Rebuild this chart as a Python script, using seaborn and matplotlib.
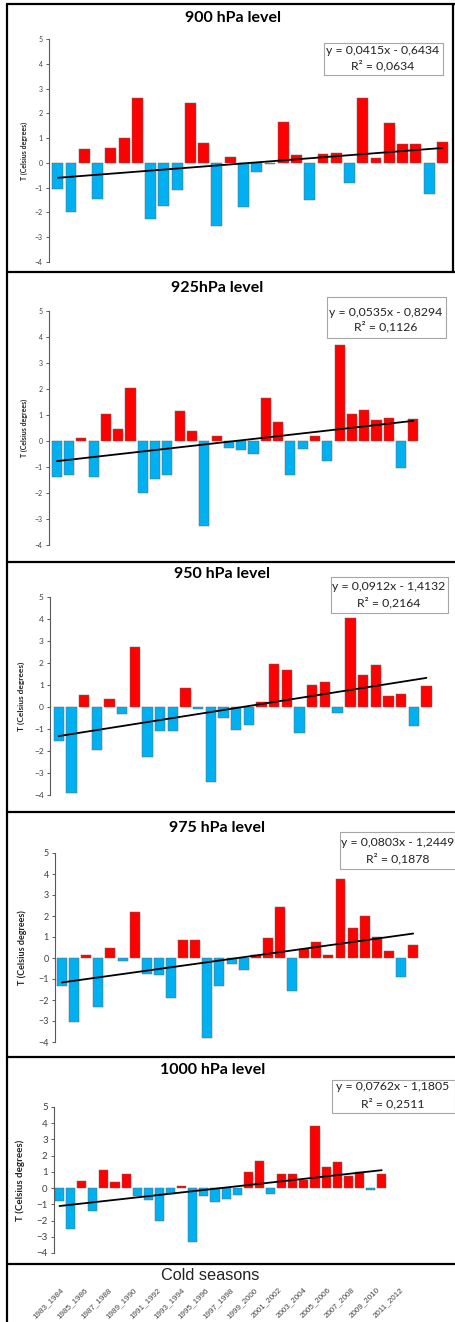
import numpy as np
import pandas as pd
import matplotlib.pyplot as plt
import seaborn as sns
from matplotlib.lines import Line2D
from matplotlib.patches import Rectangle

sns.set_theme(style="ticks")
plt.rcParams['font.family'] = ['Lato', 'DejaVu Sans']

W, H = 456, 1322

seasons = [f"{y}_{y + 1}" for y in range(1983, 2013)]
shown_labels = ["1983_1984", "1985_1986", "1987_1988", "1989_1990", "1991_1992",
                "1993_1994", "1995_1996", "1997_1998", "1999_2000", "2001_2002",
                "2003_2004", "2005_2006", "2007_2008", "2009_2010", "2011_2012"]

t900 = [-1.05, -2.0, 0.55, -1.45, 0.6, 1.0, 2.6, -2.25, -1.75, -1.1, 2.4, 0.8, -2.55, 0.25, -1.8,
        -0.35, -0.05, 1.65, 0.3, -1.5, 0.35, 0.4, -0.8, 2.6, 0.2, 1.6, 0.75, 0.75, -1.25, 0.85]
t925 = [-1.4, -1.3, 0.1, -1.4, 1.05, 0.45, 2.05, -2.0, -1.45, -1.3, 1.15, 0.4, -3.25, 0.2, -0.25,
        -0.35, -0.5, 1.65, 0.75, -1.3, -0.3, 0.2, -0.75, 3.7, 1.05, 1.2, 0.8, 0.9, -1.05, 0.85]
t950 = [-1.55, -3.9, 0.55, -1.95, 0.35, -0.3, 2.75, -2.25, -1.1, -1.1, 0.85, -0.1, -3.4, -0.5, -1.05,
        -0.8, 0.25, 1.95, 1.7, -1.2, 1.0, 1.15, -0.25, 4.05, 1.45, 1.9, 0.5, 0.6, -0.85, 0.95]
t975 = [-1.35, -3.05, 0.15, -2.35, 0.5, -0.15, 2.2, -0.75, -0.8, -1.9, 0.85, 0.85, -3.8, -1.35, -0.3,
        -0.55, 0.15, 0.95, 2.45, -1.55, 0.45, 0.75, 0.15, 3.75, 1.45, 2.0, 1.0, 0.35, -0.9, 0.6]
t1000 = [-0.8, -2.5, 0.45, -1.4, 1.1, 0.4, 0.85, -0.5, -0.75, -2.05, -0.35, 0.15, -3.3, -0.5, -0.85,
         -0.7, -0.4, 1.0, 1.65, -0.35, 0.85, 0.85, 0.5, 3.85, 1.3, 1.6, 0.75, 1.0, -0.1, 0.9]

titles = ["900 hPa level", "925hPa level", "950 hPa level", "975 hPa level", "1000 hPa level"]
slopes = [0.0415, 0.0535, 0.0912, 0.0803, 0.0762]
intercepts = [-0.6434, -0.8294, -1.4132, -1.2449, -1.1805]
r2 = [0.0634, 0.1126, 0.2164, 0.1878, 0.2511]
series = [t900, t925, t950, t975, t1000]

# panel layout in pixels: spine x, first bar centre, bar spacing, y of +5, y of -4
layout = [
    dict(spine=49, c0=57.8, step=13.26, top=39, bot=262, title=(233, 18),
         box=(324, 43, 443, 75), eq=(383, 50, 66), fs=5, ylx=28),
    dict(spine=49, c0=56.7, step=12.3, top=311, bot=545, title=(217, 288),
         box=(327, 297, 446, 338), eq=(386, 312, 327), fs=5, ylx=28),
    dict(spine=50, c0=58.7, step=12.68, top=597, bot=795, title=(222, 574),
         box=(331, 577, 448, 613), eq=(389, 587, 603), fs=6, ylx=25),
    dict(spine=55, c0=62, step=12.11, top=853, bot=1042, title=(217, 828),
         box=(340, 832, 470, 869), eq=(398, 843, 859), fs=6.5, ylx=27),
    dict(spine=54, c0=59.5, step=11.11, top=1107, bot=1253, title=(213, 1070),
         box=(332, 1080, 455, 1113), eq=(393, 1087, 1104), fs=7, ylx=25),
]


def fx(px):
    return px / W


def fy(py):
    return 1 - py / H


def fmt(v):
    return f"{abs(v):.4f}".replace(".", ",")


fig = plt.figure(figsize=(W / 100, H / 100), dpi=100)

for i, (vals, L) in enumerate(zip(series, layout)):
    x_left = -(L["c0"] - L["spine"]) / L["step"]
    width_px = (29.5 - x_left) * L["step"]
    ax = fig.add_axes([fx(L["spine"]), fy(L["bot"]), fx(width_px), (L["bot"] - L["top"]) / H])

    df = pd.DataFrame({"season": seasons, "T": vals})
    df["sign"] = np.where(df["T"] >= 0, "warm", "cold")
    sns.barplot(data=df, x="season", y="T", hue="sign", dodge=False, width=0.82,
                palette={"warm": "#FF0000", "cold": "#00B0F0"}, saturation=1, legend=False,
                edgecolor="#6a6a6a", linewidth=0.35, ax=ax, order=seasons)

    idx = np.arange(len(vals))
    ax.plot(idx, slopes[i] * (idx + 1) + intercepts[i], color="black", lw=1.3)

    ax.set_xlim(x_left, 29.5)
    ax.set_ylim(-4, 5)
    ax.set_yticks(range(-4, 6))
    ax.set_xticks([])
    ax.set_xlabel("")
    ax.set_ylabel("T (Celsius degrees)", fontsize=L["fs"], fontweight="bold", color="#222222")
    ax.yaxis.set_label_coords(-(L["spine"] - L["ylx"]) / width_px, 0.5)
    ax.tick_params(axis="y", direction="out", length=2.5, width=0.6, pad=2,
                   labelsize=L["fs"], colors="#404040")
    for s in ["top", "right", "bottom"]:
        ax.spines[s].set_visible(False)
    ax.spines["left"].set_color("#595959")
    ax.spines["left"].set_linewidth(0.8)
    ax.set_facecolor("none")

    tx, ty = L["title"]
    fig.text(fx(tx), fy(ty), titles[i], ha="center", va="center",
             fontsize=11.5, fontweight="bold", color="black")

    x0, y0, x1, y1 = L["box"]
    fig.add_artist(Rectangle((fx(x0), fy(y1)), fx(x1 - x0), (y1 - y0) / H,
                             transform=fig.transFigure, facecolor="white",
                             edgecolor="#a6a6a6", lw=0.8))
    ex, ey1, ey2 = L["eq"]
    sign = "-" if intercepts[i] < 0 else "+"
    fig.text(fx(ex), fy(ey1), f"y = {fmt(slopes[i])}x {sign} {fmt(intercepts[i])}",
             ha="center", va="center", fontsize=8.8, color="#222222")
    fig.text(fx(ex), fy(ey2), f"R\u00b2 = {fmt(r2[i])}",
             ha="center", va="center", fontsize=8.8, color="#222222")

# bottom strip with the season names
ax_lab = fig.add_axes([fx(53.9), fy(1285), fx(30 * 12.14), 0.0005])
ax_lab.set_xlim(-0.5, 29.5)
ax_lab.set_xticks(range(0, 30, 2))
ax_lab.set_xticklabels(shown_labels, rotation=45, ha="right", rotation_mode="anchor",
                       fontsize=5.8, color="#404040", family=["Liberation Sans"])
ax_lab.tick_params(axis="x", length=0, pad=1)
ax_lab.set_yticks([])
for s in ax_lab.spines.values():
    s.set_visible(False)
ax_lab.set_facecolor("none")

fig.text(fx(210), fy(1275), "Cold seasons", ha="center", va="center",
         fontsize=11.7, color="#222222", family=["Liberation Sans"])

# panel frames
lw = 1.6
for yy in [272, 562, 812, 1057, 1264]:
    fig.add_artist(Line2D([fx(7), 1], [fy(yy), fy(yy)], transform=fig.transFigure,
                          color="black", lw=lw))
fig.add_artist(Line2D([fx(7), 1], [fy(4), fy(4)], transform=fig.transFigure, color="black", lw=lw))
fig.add_artist(Line2D([fx(7), fx(7)], [fy(4), 0], transform=fig.transFigure, color="black", lw=lw))
fig.add_artist(Line2D([fx(453), fx(453)], [fy(4), fy(272)], transform=fig.transFigure,
                      color="black", lw=lw))

fig.savefig("out.png", dpi=100)
